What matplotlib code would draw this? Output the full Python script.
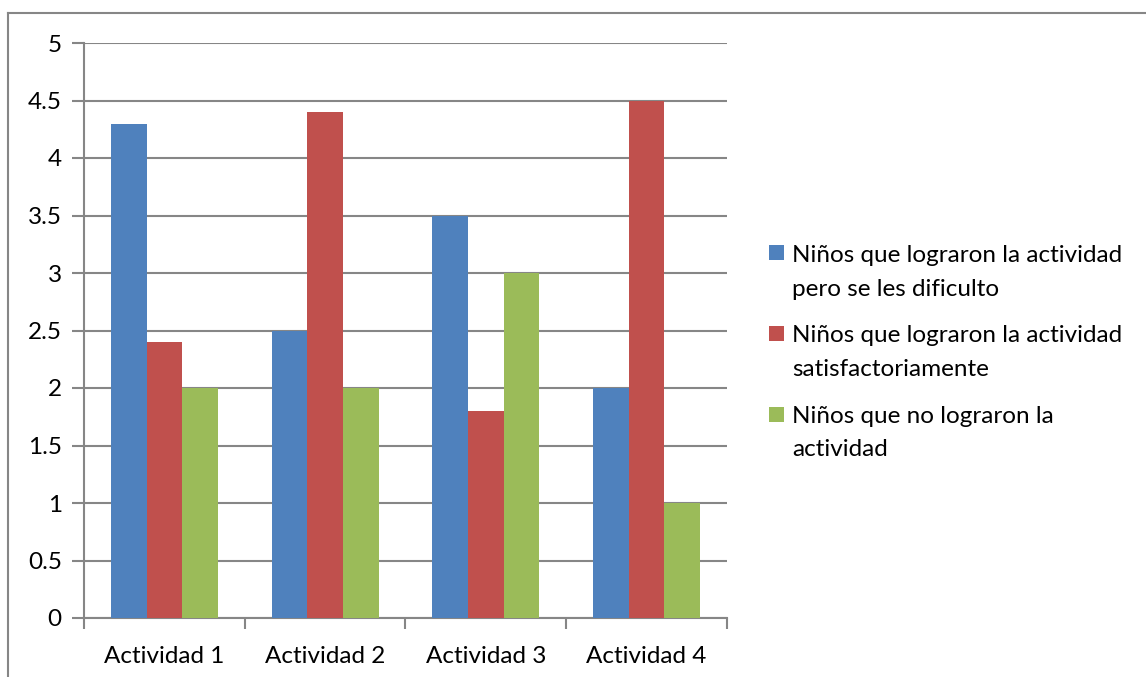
import matplotlib
matplotlib.use("Agg")
import matplotlib.pyplot as plt
from matplotlib.lines import Line2D
from matplotlib.patches import Rectangle
import numpy as np

categories = ["Actividad 1", "Actividad 2", "Actividad 3", "Actividad 4"]
series_names = [
    "Niños que lograron la actividad\npero se les dificulto",
    "Niños que lograron la actividad\nsatisfactoriamente",
    "Niños que no lograron la\nactividad",
]
dificulto = [4.3, 2.5, 3.5, 2.0]
satisfactorio = [2.4, 4.4, 1.8, 4.5]
no_logrado = [2.0, 2.0, 3.0, 1.0]
colors = ["#4F81BD", "#C0504D", "#9BBB59"]
yticks = [0, 0.5, 1, 1.5, 2, 2.5, 3, 3.5, 4, 4.5, 5]
ytick_labels = ["0", "0.5", "1", "1.5", "2", "2.5", "3", "3.5", "4", "4.5", "5"]

plt.rcParams["font.family"] = ["Lato", "DejaVu Sans"]
W, H = 1146, 677
FS = 17.5
fig = plt.figure(figsize=(W / 100, H / 100), dpi=100)
ax = fig.add_axes([84 / W, 1 - 618 / H, (727 - 84) / W, (618 - 43) / H])

grid_c = "#868686"
x = np.arange(len(categories))
bw = 0.222
for i, (vals, c) in enumerate(zip([dificulto, satisfactorio, no_logrado], colors)):
    ax.bar(x + (i - 1) * bw, vals, width=bw, color=c, zorder=3, linewidth=0)

ax.set_xlim(-0.5, len(categories) - 0.5)
ax.set_ylim(0, 5)
ax.set_yticks(yticks)
ax.set_yticklabels(ytick_labels)
ax.yaxis.grid(True, color=grid_c, linewidth=1.5, zorder=0)
ax.set_axisbelow(True)
ax.set_xticks(x)
ax.set_xticklabels(categories)
ax.set_xticks(np.arange(-0.5, len(categories)), minor=True)
ax.tick_params(axis="x", which="major", length=0, pad=20, labelsize=FS, colors="black")
ax.tick_params(axis="x", which="minor", length=8, width=1.5, color=grid_c, direction="out")
ax.tick_params(axis="y", length=9, width=1.5, color=grid_c, pad=7, labelsize=FS)
for s in ["top", "right"]:
    ax.spines[s].set_visible(False)
for s in ["left", "bottom"]:
    ax.spines[s].set_color(grid_c)
    ax.spines[s].set_linewidth(1.5)

# chart border (top and left)
fig.add_artist(Line2D([8 / W, 1], [1 - 13 / H, 1 - 13 / H], transform=fig.transFigure, color=grid_c, linewidth=1.5))
fig.add_artist(Line2D([8 / W, 8 / W], [0, 1 - 13 / H], transform=fig.transFigure, color=grid_c, linewidth=1.5))

# legend (square aligned with first line, as in Excel)
for k, (name, c) in enumerate(zip(series_names, colors)):
    sq_c = 253 + k * 80.5
    fig.add_artist(Rectangle((769 / W, 1 - (sq_c + 7.5) / H), 15 / W, 15 / H,
                             transform=fig.transFigure, facecolor=c, edgecolor="none"))
    for j, line in enumerate(name.split("\n")):
        base = 262 + k * 80.5 + j * 33.5
        fig.text(792 / W, 1 - base / H, line, fontsize=FS, va="baseline", ha="left")

fig.savefig("out.png", dpi=100)
